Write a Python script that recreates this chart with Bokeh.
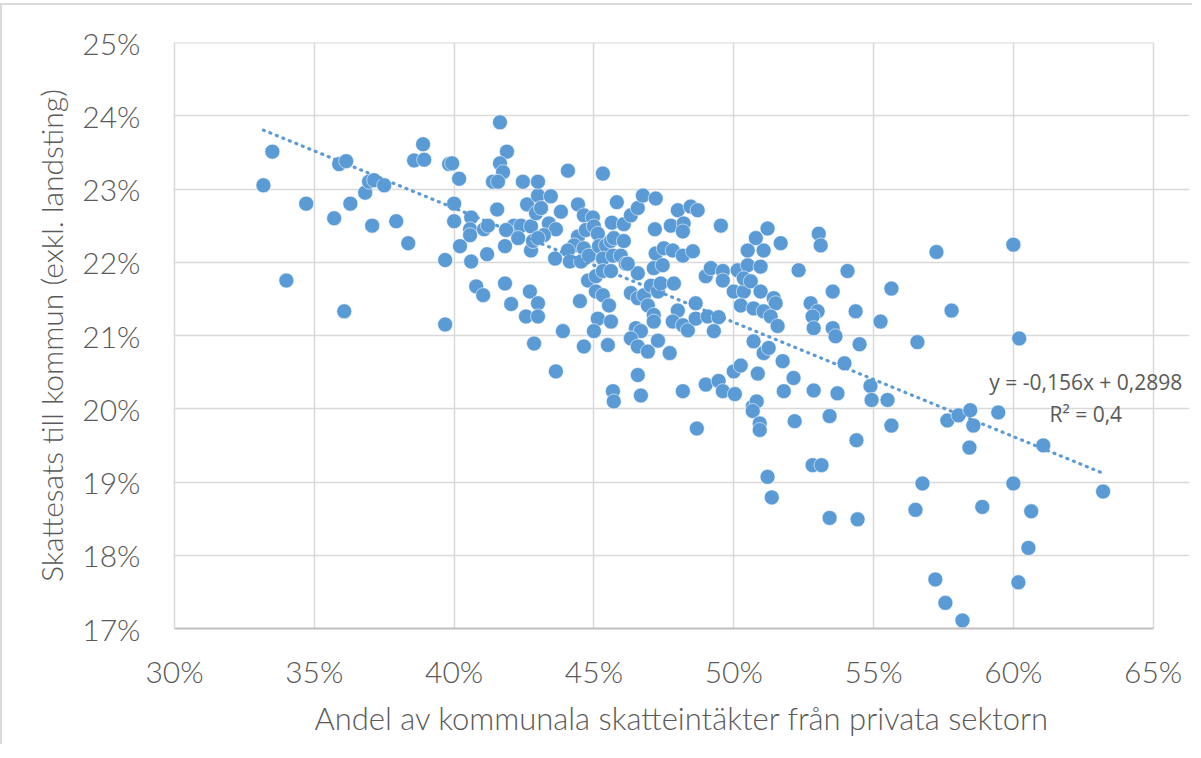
from bokeh.plotting import figure
from bokeh.models import FixedTicker, PrintfTickFormatter, Label
from bokeh.embed import file_html
from bokeh.resources import INLINE

# Share of municipal tax income from the private sector (%)
private_share = [
    33.18, 33.50, 34.00, 34.71, 35.71, 35.89, 36.14, 36.07, 36.29, 36.82,
    36.96, 37.14, 37.07, 37.50, 37.93, 38.36, 38.57, 38.89, 38.93, 39.68,
    39.68, 39.82, 39.93, 40.00, 40.00, 40.18, 40.21, 40.61, 40.57, 40.57,
    40.61, 40.79, 41.04, 41.07, 41.21, 41.18, 41.64, 41.89, 41.64, 41.75,
    41.39, 41.57, 41.54, 41.82, 41.82, 42.04, 42.57, 42.86, 42.71, 43.00,
    43.00, 42.46, 42.61, 42.14, 42.39, 42.75, 41.86, 42.29, 42.75, 42.82,
    42.93, 43.00, 43.00, 44.07, 45.32, 43.46, 43.11, 44.43, 43.82, 44.64,
    44.96, 43.39, 43.64, 43.21, 43.00, 44.43, 44.71, 45.00, 45.14, 44.29,
    44.64, 44.07, 44.14, 43.61, 44.54, 44.82, 45.18, 45.43, 45.61, 45.71,
    46.07, 45.32, 45.68, 45.96, 46.14, 44.79, 45.07, 45.32, 45.61, 45.07,
    45.32, 45.54, 44.50, 45.14, 45.61, 45.00, 43.89, 44.64, 45.50, 43.64,
    45.64, 46.07, 45.82, 46.32, 46.57, 46.75, 47.21, 48.00, 48.46, 48.71,
    47.75, 48.21, 48.18, 47.18, 49.54, 47.21, 47.50, 47.82, 48.18, 48.54,
    47.14, 47.46, 46.57, 46.21, 46.32, 46.57, 46.79, 47.04, 47.29, 47.39,
    47.86, 46.93, 47.14, 47.14, 46.50, 46.68, 46.32, 46.57, 46.93, 47.29,
    47.71, 46.57, 48.00, 48.64, 47.82, 48.18, 48.36, 48.64, 49.07, 49.46,
    49.29, 49.00, 49.18, 49.61, 49.61, 50.14, 50.50, 50.96, 50.00, 50.36,
    50.25, 50.36, 50.61, 50.96, 51.43, 51.50, 50.79, 51.07, 50.50, 51.21,
    51.68, 50.71, 51.07, 51.32, 51.57, 50.71, 51.07, 51.25, 51.75, 50.00,
    50.25, 50.86, 52.14, 52.32, 53.04, 53.11, 52.75, 53.00, 52.82, 52.86,
    53.54, 53.54, 53.64, 45.68, 45.71, 46.68, 48.18, 49.00, 49.46, 49.61,
    50.04, 51.79, 52.86, 53.71, 48.68, 50.68, 50.82, 50.68, 50.93, 50.93,
    52.18, 53.43, 52.82, 53.14, 51.21, 51.36, 53.43, 53.96, 54.89, 54.93,
    55.50, 55.64, 54.39, 57.64, 58.04, 58.46, 58.57, 59.46, 58.43, 61.07,
    56.75, 60.00, 63.21, 56.50, 58.89, 60.64, 54.43, 60.54, 57.21, 60.18,
    57.57, 58.18, 60.00, 57.25, 54.07, 55.64, 54.36, 57.79, 55.25, 54.50,
    56.57, 60.21,
]

# Municipal tax rate excl. county council (%)
tax_rate = [
    23.05, 23.51, 21.75, 22.80, 22.60, 23.34, 23.38, 21.33, 22.80, 22.95,
    23.10, 23.12, 22.50, 23.05, 22.56, 22.26, 23.39, 23.61, 23.40, 22.03,
    21.15, 23.34, 23.35, 22.80, 22.56, 23.14, 22.22, 22.61, 22.45, 22.37,
    22.01, 21.67, 21.55, 22.45, 22.50, 22.11, 23.91, 23.51, 23.35, 23.23,
    23.10, 23.10, 22.72, 22.22, 21.71, 21.43, 21.26, 20.89, 21.60, 21.44,
    21.26, 23.10, 22.79, 22.50, 22.50, 22.49, 22.44, 22.33, 22.16, 22.29,
    22.67, 22.91, 23.10, 23.25, 23.21, 22.90, 22.74, 22.79, 22.69, 22.64,
    22.61, 22.53, 22.45, 22.37, 22.33, 22.35, 22.44, 22.49, 22.39, 22.23,
    22.19, 22.16, 22.01, 22.05, 22.01, 22.09, 22.22, 22.23, 22.29, 22.33,
    22.29, 22.05, 22.09, 22.09, 21.98, 21.75, 21.81, 21.88, 21.88, 21.60,
    21.55, 21.41, 21.47, 21.23, 21.19, 21.06, 21.06, 20.85, 20.87, 20.51,
    22.54, 22.52, 22.82, 22.64, 22.74, 22.91, 22.87, 22.71, 22.76, 22.71,
    22.50, 22.53, 22.42, 22.45, 22.50, 22.12, 22.19, 22.16, 22.09, 22.15,
    21.92, 21.96, 21.85, 21.98, 21.58, 21.51, 21.55, 21.68, 21.60, 21.71,
    21.71, 21.41, 21.28, 21.19, 21.10, 21.06, 20.96, 20.85, 20.78, 20.93,
    20.76, 20.46, 21.34, 21.44, 21.19, 21.14, 21.07, 21.23, 21.26, 21.25,
    21.06, 21.81, 21.92, 21.88, 21.75, 21.89, 21.96, 21.94, 21.60, 21.60,
    21.41, 21.78, 21.74, 21.60, 21.51, 21.44, 22.33, 22.16, 22.16, 22.46,
    22.26, 21.37, 21.33, 21.26, 21.13, 20.92, 20.76, 20.83, 20.65, 20.51,
    20.59, 20.48, 20.42, 21.89, 22.39, 22.23, 21.44, 21.33, 21.26, 21.10,
    21.60, 21.10, 20.99, 20.24, 20.10, 20.18, 20.24, 20.33, 20.38, 20.24,
    20.20, 20.24, 20.25, 20.21, 19.73, 20.03, 20.10, 19.97, 19.80, 19.71,
    19.83, 19.90, 19.23, 19.23, 19.07, 18.79, 18.51, 20.62, 20.31, 20.12,
    20.12, 19.77, 19.57, 19.84, 19.91, 19.98, 19.77, 19.95, 19.47, 19.50,
    18.98, 18.98, 18.87, 18.62, 18.66, 18.60, 18.49, 18.10, 17.67, 17.63,
    17.35, 17.11, 22.24, 22.14, 21.88, 21.64, 21.33, 21.34, 21.19, 20.88,
    20.91, 20.96,
]

x_ticks = [30, 35, 40, 45, 50, 55, 60, 65]
y_ticks = [17, 18, 19, 20, 21, 22, 23, 24, 25]
x_min, x_max = x_ticks[0], x_ticks[-1]
y_min, y_max = y_ticks[0], y_ticks[-1]
x_view_max = 66.3  # room right of the plot box for the trend-line label

# Linear trend (as printed on the chart): y = -0,156x + 0,2898
trend_slope = -0.156
trend_intercept = 0.2898
trend_x = [min(private_share), max(private_share)]
trend_y = [100 * (trend_slope * v / 100 + trend_intercept) for v in trend_x]

BLUE = "#5b9bd5"
GRAY = "#595959"
GRID = "#d9d9d9"
FONT = "Lato Light, Lato"

p = figure(
    width=1192, height=741,
    x_range=(x_min, x_view_max), y_range=(y_min, y_max),
    output_backend="svg", toolbar_location=None,
    min_border_left=172, min_border_right=5,
    min_border_top=37, min_border_bottom=118,
    background_fill_color="white", border_fill_color="white",
)
p.styles = {"border-left": "2px solid #d9d9d9", "border-top": "2px solid #d9d9d9",
            "margin-top": "3px"}
p.outline_line_color = None

for ax in (p.xaxis[0], p.yaxis[0]):
    ax.major_tick_line_color = None
    ax.minor_tick_line_color = None
    ax.major_label_text_font = FONT
    ax.major_label_text_font_size = "30px"
    ax.major_label_text_color = GRAY
    ax.axis_label_text_font = FONT
    ax.axis_label_text_font_style = "normal"
    ax.axis_label_text_color = GRAY
    ax.formatter = PrintfTickFormatter(format="%d%%")

p.xaxis.axis_label_text_font_size = "31px"
p.yaxis.axis_label_text_font_size = "30px"
p.xaxis.ticker = FixedTicker(ticks=x_ticks)
p.yaxis.ticker = FixedTicker(ticks=y_ticks)
p.xaxis.bounds = (x_min, x_max)
p.xaxis.axis_line_color = "#bfbfbf"
p.xaxis.axis_line_width = 2
p.yaxis.axis_line_color = GRID
p.yaxis.axis_line_width = 1.5
p.xaxis.major_label_standoff = 18
p.yaxis.major_label_standoff = 28
p.xaxis.axis_label = "Andel av kommunala skatteintäkter från privata sektorn"
p.yaxis.axis_label = "Skattesats till kommun (exkl. landsting)"
p.xaxis.axis_label_standoff = 7
p.yaxis.axis_label_standoff = 10

p.xgrid.ticker = FixedTicker(ticks=x_ticks)
p.ygrid.ticker = FixedTicker(ticks=y_ticks)
p.grid.grid_line_color = GRID
p.grid.grid_line_width = 1.5

# blank out the horizontal grid lines to the right of the plot box
p.quad(left=[x_max + 0.03], right=[x_view_max], bottom=[y_min], top=[y_max],
       fill_color="white", line_color=None, level="underlay")
# top edge of the plot box
p.line([x_min, x_max], [y_max, y_max], line_color=GRID, line_width=2,
       level="underlay")

p.scatter(private_share, tax_rate, size=15, fill_color=BLUE,
          line_color="white", line_width=0.8, line_alpha=0.7)

p.line(trend_x, trend_y, line_color=BLUE, line_width=3.2,
       line_dash="1 6", line_cap="round")

p.add_layout(Label(x=62.59, y=20.36, text="y = -0,156x + 0,2898",
                   text_align="center", text_baseline="middle",
                   text_font="Open Sans", text_font_size="21px",
                   text_color=GRAY))
p.add_layout(Label(x=62.59, y=19.93, text="R² = 0,4",
                   text_align="center", text_baseline="middle",
                   text_font="Open Sans", text_font_size="21px",
                   text_color=GRAY))

open("out.html", "w").write(file_html(p, INLINE))
